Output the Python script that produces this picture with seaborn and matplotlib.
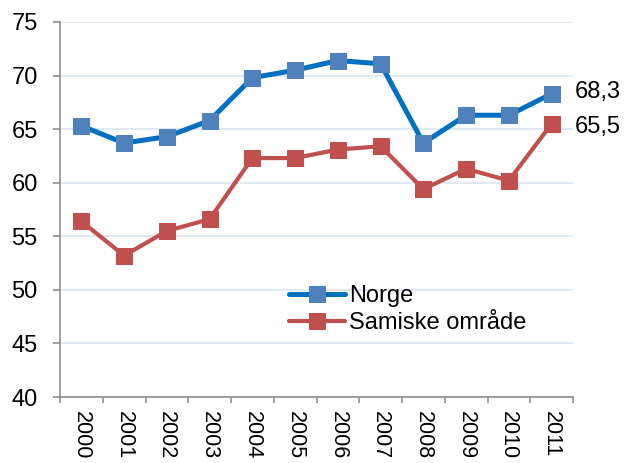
import numpy as np
import pandas as pd
from matplotlib import pyplot as plt
from matplotlib.ticker import FixedLocator
import seaborn as sns

years = ['2000', '2001', '2002', '2003', '2004', '2005',
         '2006', '2007', '2008', '2009', '2010', '2011']
norge = [65.3, 63.7, 64.3, 65.8, 69.8, 70.5, 71.4, 71.1, 63.7, 66.3, 66.3, 68.3]
samiske = [56.4, 53.2, 55.5, 56.6, 62.3, 62.3, 63.1, 63.4, 59.4, 61.3, 60.2, 65.5]
series_names = ['Norge', 'Samiske område']
end_labels = ['68,3', '65,5']

sns.set_theme(style='white')
plt.rcParams['font.family'] = ['Liberation Sans', 'DejaVu Sans']
plt.rcParams['text.color'] = 'black'
fs = 17

df = pd.DataFrame({
    'pos': list(range(len(years))) * 2,
    'value': norge + samiske,
    'serie': [series_names[0]] * len(years) + [series_names[1]] * len(years),
})

fig = plt.figure(figsize=(6.25, 4.63), dpi=100)
ax = fig.add_axes([0.096, 0.1425, 0.8208, 0.81])

line_cols = {'Norge': '#0070C0', 'Samiske område': '#C0504D'}
marker_cols = {'Norge': '#4F81BD', 'Samiske område': '#C0504D'}
widths = {'Norge': 3.6, 'Samiske område': 3.0}

for name in series_names:
    sub = df[df['serie'] == name]
    sns.lineplot(data=sub, x='pos', y='value', ax=ax, color=line_cols[name],
                 lw=widths[name], marker='s', markersize=12,
                 markerfacecolor=marker_cols[name], markeredgecolor=marker_cols[name],
                 label=name)

# value labels at the last point
for vals, txt, dy in zip([norge, samiske], end_labels, [1, -2]):
    ax.annotate(txt, xy=(len(years) - 1, vals[-1]), xytext=(16.5, dy),
                textcoords='offset points', va='center', ha='left',
                fontsize=fs, color='black', annotation_clip=False)

ax.set_xlim(-0.5, len(years) - 0.5)
ax.set_ylim(40, 75)
ax.set_yticks(np.arange(40, 76, 5))
ax.set_xticks(range(len(years)))
# years made a bit smaller than the rest so they fit inside the figure
ax.set_xticklabels(years, rotation=-90, fontsize=15.5, va='top')
ax.xaxis.set_minor_locator(FixedLocator(np.arange(-0.5, len(years), 1)))
ax.tick_params(axis='x', which='major', length=0, pad=10, labelcolor='black')
ax.tick_params(axis='x', which='minor', length=4.5, color='#868686', width=1.1, bottom=True)
ax.tick_params(axis='y', length=5, color='#868686', width=1.1, left=True,
               labelsize=fs, pad=11, labelcolor='black')
ax.set_xlabel('')
ax.set_ylabel('')

ax.grid(axis='y', color='#DCE6F2', lw=1.3)
ax.set_axisbelow(True)
sns.despine(ax=ax)
for s in ['left', 'bottom']:
    ax.spines[s].set_color('#868686')
    ax.spines[s].set_linewidth(1.1)

ax.legend(loc='upper left', bbox_to_anchor=(0.446, 0.299), frameon=False,
          fontsize=fs, handlelength=2.37, handletextpad=0.17, labelspacing=0.22,
          borderaxespad=0, borderpad=0, labelcolor='black')

fig.savefig('out.png', dpi=100)
